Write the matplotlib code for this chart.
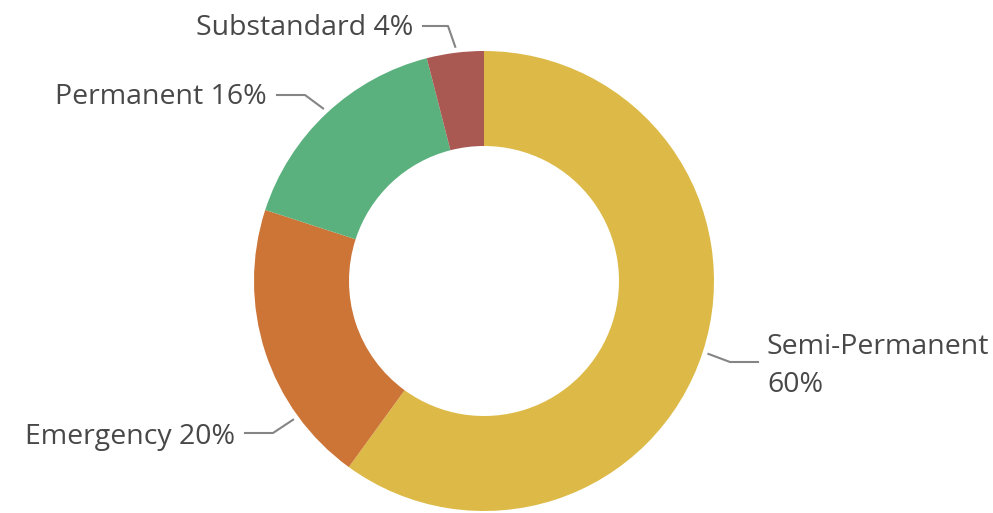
import numpy as np
import matplotlib
matplotlib.use('Agg')
import matplotlib.pyplot as plt

categories = ['Semi-Permanent', 'Emergency', 'Permanent', 'Substandard']
shares = [60, 20, 16, 4]
colors = ['#DDBA47', '#CC7537', '#5BB17E', '#A95852']

plt.rcParams['font.family'] = ['Open Sans', 'DejaVu Sans']

W, H = 993, 513
fig = plt.figure(figsize=(W / 100, H / 100), dpi=100)
ax = fig.add_axes([0, 0, 1, 1])

cx, cy, r = 484, H - 281, 230
ax.pie(shares, colors=colors, startangle=90, counterclock=False,
       center=(cx, cy), radius=r, wedgeprops=dict(width=95, linewidth=0),
       frame=True)
ax.set_xlim(0, W)
ax.set_ylim(0, H)
ax.axis('off')

# label layout: (anchor angle, elbow point, line end, text pos, ha)
layout = {
    'Semi-Permanent': (-18, (730, 362), (758, 362), (767, 366), 'left'),
    'Emergency': (216, (273, 433), (245, 433), (235, 437), 'right'),
    'Permanent': (133, (305, 95), (277, 95), (267, 97), 'right'),
    'Substandard': (97, (448, 26), (423, 26), (413, 28), 'right'),
}

fs = 20.5
for cat, val in zip(categories, shares):
    ang, elbow, end, tpos, ha = layout[cat]
    a = np.deg2rad(ang)
    sx, sy = cx + (r + 6) * np.cos(a), cy + (r + 6) * np.sin(a)
    ax.plot([sx, elbow[0], end[0]], [sy, H - elbow[1], H - end[1]],
            color='#858585', lw=1.5)
    if cat == 'Semi-Permanent':
        label = f'{cat}\n{val}%'
        ax.text(tpos[0], H - tpos[1], label, ha=ha, va='center',
                fontsize=fs, color='#484848', linespacing=1.45)
    else:
        label = f'{cat} {val}%'
        ax.text(tpos[0], H - tpos[1], label, ha=ha, va='center',
                fontsize=fs, color='#484848')

fig.savefig('out.png', dpi=100)
